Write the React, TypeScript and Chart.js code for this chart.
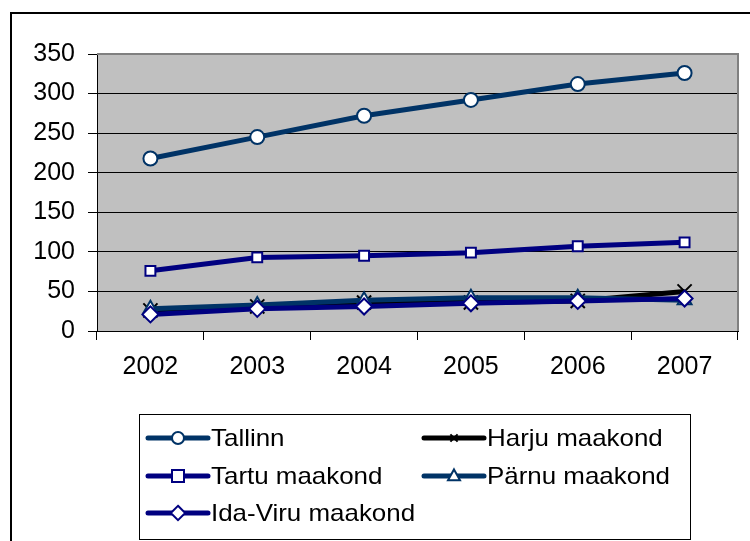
import React, { useEffect, useRef } from "react";
import { Chart, registerables } from "chart.js";

Chart.register(...registerables);

const years = ["2002", "2003", "2004", "2005", "2006", "2007"];
const tallinn = [218, 245, 272, 292, 312, 326];
const harju = [26, 31, 36, 36, 38, 50];
const tartu = [76, 93, 95, 99, 107, 112];
const parnu = [28, 33, 39, 42, 42, 39];
const idaViru = [21, 28, 31, 35, 38, 41];
const yTicks = [0, 50, 100, 150, 200, 250, 300, 350];

const FONT = "'Liberation Sans', Arial, sans-serif";

type Sty = "circle" | "rect" | "crossRot" | "triangle" | "rectRot";

function drawMarker(ctx: CanvasRenderingContext2D, style: Sty, x: number, y: number, r: number, color: string) {
  ctx.save();
  ctx.lineWidth = 2;
  ctx.strokeStyle = color;
  ctx.fillStyle = "#ffffff";
  ctx.beginPath();
  if (style === "circle") {
    ctx.arc(x, y, r, 0, Math.PI * 2);
    ctx.fill();
    ctx.stroke();
  } else if (style === "rect") {
    ctx.rect(x - r, y - r, 2 * r, 2 * r);
    ctx.fill();
    ctx.stroke();
  } else if (style === "rectRot") {
    ctx.moveTo(x, y - r * 1.2);
    ctx.lineTo(x + r * 1.2, y);
    ctx.lineTo(x, y + r * 1.2);
    ctx.lineTo(x - r * 1.2, y);
    ctx.closePath();
    ctx.fill();
    ctx.stroke();
  } else if (style === "triangle") {
    ctx.moveTo(x, y - r * 1.1);
    ctx.lineTo(x + r, y + r * 0.7);
    ctx.lineTo(x - r, y + r * 0.7);
    ctx.closePath();
    ctx.fill();
    ctx.stroke();
  } else {
    const d = r * 0.6;
    ctx.moveTo(x - d, y - d);
    ctx.lineTo(x + d, y + d);
    ctx.moveTo(x + d, y - d);
    ctx.lineTo(x - d, y + d);
    ctx.stroke();
  }
  ctx.restore();
}

const legendItems: { label: string; color: string; style: Sty; col: number; row: number }[] = [
  { label: "Tallinn", color: "#003366", style: "circle", col: 0, row: 0 },
  { label: "Harju maakond", color: "#000000", style: "crossRot", col: 1, row: 0 },
  { label: "Tartu maakond", color: "#000080", style: "rect", col: 0, row: 1 },
  { label: "Pärnu maakond", color: "#003366", style: "triangle", col: 1, row: 1 },
  { label: "Ida-Viru maakond", color: "#000080", style: "rectRot", col: 0, row: 2 },
];

const framePlugin = {
  id: "framePlugin",
  beforeDraw(chart: any) {
    const { ctx, chartArea } = chart;
    ctx.save();
    ctx.fillStyle = "#ffffff";
    ctx.fillRect(0, 0, chart.width, chart.height);
    ctx.fillStyle = "#C0C0C0";
    ctx.fillRect(chartArea.left, chartArea.top, chartArea.right - chartArea.left, chartArea.bottom - chartArea.top);
    ctx.restore();
  },
  afterDraw(chart: any) {
    const { ctx, chartArea } = chart;
    ctx.save();
    ctx.strokeStyle = "#808080";
    ctx.lineWidth = 2;
    ctx.beginPath();
    ctx.moveTo(chartArea.left, chartArea.top);
    ctx.lineTo(chartArea.right, chartArea.top);
    ctx.lineTo(chartArea.right, chartArea.bottom);
    ctx.stroke();
    ctx.strokeStyle = "#000000";
    ctx.lineWidth = 2;
    ctx.strokeRect(11, 13, 800, 600);
    ctx.lineWidth = 1;
    ctx.strokeStyle = "#000000";
    ctx.strokeRect(139.5, 414.5, 551, 125);
    const colX = [146, 422];
    const rowY = [438, 476, 513];
    ctx.font = "24px " + FONT;
    ctx.textBaseline = "middle";
    ctx.textAlign = "left";
    for (const it of legendItems) {
      const x0 = colX[it.col];
      const y = rowY[it.row];
      ctx.strokeStyle = it.color;
      ctx.lineWidth = 5;
      ctx.lineCap = "round";
      ctx.beginPath();
      ctx.moveTo(x0 + 2, y);
      ctx.lineTo(x0 + 62, y);
      ctx.stroke();
      ctx.lineCap = "butt";
      drawMarker(ctx, it.style, x0 + 32, y, 6, it.color);
      ctx.fillStyle = "#000000";
      ctx.save();
      ctx.translate(x0 + 65, y + 1);
      ctx.scale(1.08, 1);
      ctx.fillText(it.label, 0, 0);
      ctx.restore();
    }
    ctx.restore();
  },
};

export default function App() {
  const ref = useRef<HTMLCanvasElement | null>(null);
  useEffect(() => {
    if (!ref.current) return;
    const mk = (label: string, data: number[], color: string, style: Sty, order: number, r: number) => ({
      label,
      data,
      borderColor: color,
      backgroundColor: "#ffffff",
      borderWidth: 5,
      pointStyle: style,
      pointRadius: r,
      pointBorderWidth: 2,
      pointBorderColor: color,
      pointBackgroundColor: "#ffffff",
      tension: 0,
      order,
    });
    const chart = new Chart(ref.current, {
      type: "line",
      data: {
        labels: years,
        datasets: [
          mk("Tallinn", tallinn, "#003366", "circle", 4, 7),
          mk("Harju maakond", harju, "#000000", "crossRot", 3, 10),
          mk("Tartu maakond", tartu, "#000080", "rect", 2, 7),
          mk("Pärnu maakond", parnu, "#003366", "triangle", 1, 8),
          mk("Ida-Viru maakond", idaViru, "#000080", "rectRot", 0, 8),
        ] as any,
      },
      options: {
        animation: false,
        responsive: false,
        maintainAspectRatio: false,
        layout: { padding: { left: 0, top: 54, right: 12, bottom: 0 } },
        plugins: { legend: { display: false }, tooltip: { enabled: false }, title: { display: false } },
        scales: {
          x: {
            type: "category",
            offset: true,
            grid: { offset: true, drawOnChartArea: false, tickLength: 9, color: "#000000", lineWidth: 1 },
            border: { color: "#000000", width: 1 },
            ticks: { color: "#000000", font: { family: FONT, size: 25 }, padding: 12, maxRotation: 0 },
            afterFit: (s: any) => {
              s.height = 210;
            },
          },
          y: {
            min: 0,
            max: 350,
            afterBuildTicks: (s: any) => {
              s.ticks = yTicks.map((v) => ({ value: v }));
            },
            grid: {
              color: (c: any) => (c.tick && c.tick.value === 350 ? "rgba(0,0,0,0)" : "#000000"),
              tickColor: "#000000",
              tickLength: 9,
              lineWidth: 1,
            },
            border: { color: "#000000", width: 1 },
            ticks: { color: "#000000", font: { family: FONT, size: 25 }, padding: 13 },
            afterFit: (s: any) => {
              s.width = 97;
            },
          },
        },
      },
      plugins: [framePlugin],
    } as any);
    return () => chart.destroy();
  }, []);
  return (
    <div style={{ position: "absolute", left: 0, top: 0, width: 750, height: 541 }}>
      <canvas ref={ref} width={750} height={541} style={{ width: 750, height: 541, display: "block" }} />
    </div>
  );
}
